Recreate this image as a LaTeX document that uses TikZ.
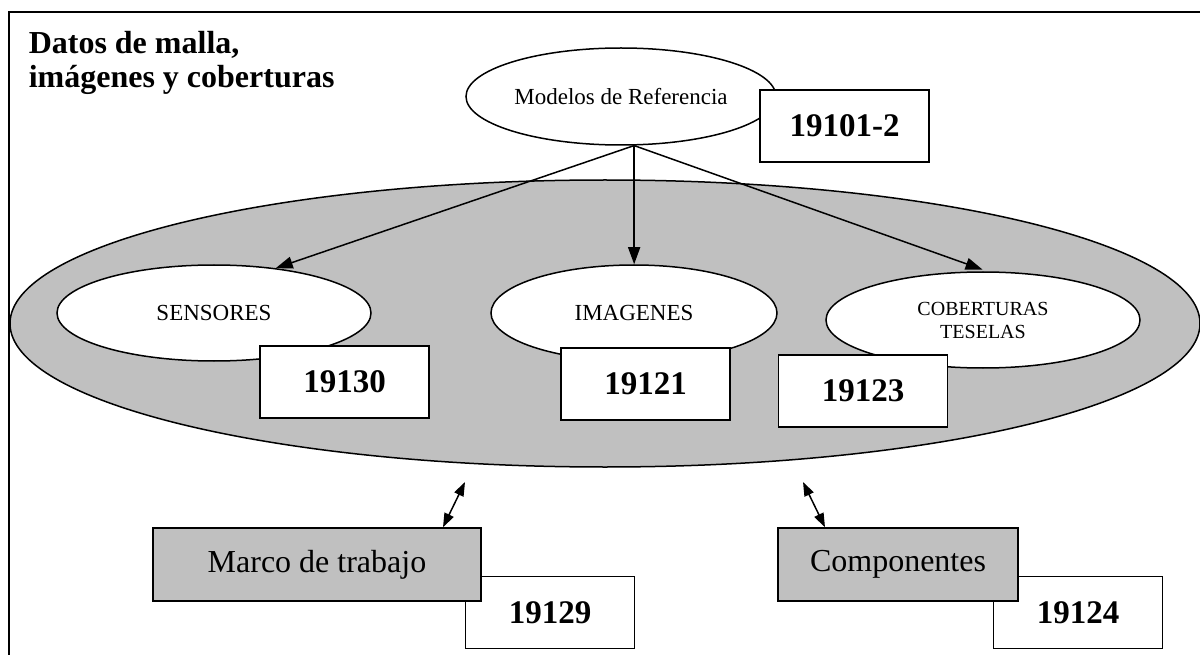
\documentclass[tikz,border=0pt]{standalone}
\usepackage{fontspec}
\setmainfont{Liberation Serif}
\usetikzlibrary{shapes.geometric,arrows.meta,calc}
\definecolor{gris}{RGB}{192,192,192}
\begin{document}
\begin{tikzpicture}[x=1pt,y=-1pt,line width=1.5pt,
  oval/.style={draw,ellipse,fill=white,inner sep=0pt},
  numbox/.style={draw,fill=white,inner sep=0pt,minimum width=169pt,minimum height=72pt,font=\fontsize{33}{33}\selectfont\bfseries},
  graybox/.style={draw,fill=gris,inner sep=0pt,minimum height=73pt,font=\fontsize{32}{32}\selectfont},
  arr/.style={-{Triangle[length=17pt,width=12pt]}},
  dblarr/.style={{Triangle[length=14pt,width=10pt]}-{Triangle[length=14pt,width=10pt]}},
]
\useasboundingbox (0,0) rectangle (1200,655);
% frame
\coordinate (fbl) at (9,656);
\coordinate (ftl) at (9,12);
\coordinate (ftr) at (1201,12);
\draw[line width=2pt] (fbl) -- (ftl) -- (ftr);
% title
\node[anchor=north west,align=left,inner sep=0pt,font=\fontsize{32}{34}\selectfont\bfseries] (title) at (28,31) {Datos de malla,\\imágenes y coberturas};
% big gray ellipse
\node[draw,ellipse,fill=gris,inner sep=0pt,minimum width=1190pt,minimum height=287pt] (big) at (605,323.5) {};
% reference model
\node[oval,minimum width=310pt,minimum height=97pt,font=\fontsize{23}{23}\selectfont] (mod) at (621,96.5) {Modelos de Referencia};
\node[numbox] (b19101) at (844.5,126) {19101-2};
% inner ellipses
\node[oval,minimum width=314pt,minimum height=96pt,font=\fontsize{23}{23}\selectfont] (sen) at (214,313) {SENSORES};
\node[oval,minimum width=286pt,minimum height=96pt,font=\fontsize{23}{23}\selectfont] (img) at (634,313) {IMAGENES};
\node[oval,minimum width=314pt,minimum height=96pt,align=center,font=\fontsize{20}{23}\selectfont] (cob) at (983,320) {COBERTURAS\\TESELAS};
\node[numbox] (b19130) at (344.5,382) {19130};
\node[numbox] (b19121) at (645.5,384) {19121};
\node[numbox] (b19123) at (863,391) {19123};
% arrows
\draw[arr] (mod.-75) -- (sen.36);
\draw[arr] (mod.-75) -- (mod.-75 |- img.north);
\draw[arr,shorten >=5pt] (mod.-75) -- (cob.85);
% bottom boxes
\node[numbox] (b19129) at (550,612.5) {19129};
\node[graybox,minimum width=328pt] (marco) at (317,564.5) {Marco de trabajo};
\node[numbox] (b19124) at (1078,612.5) {19124};
\node[graybox,minimum width=240pt] (comp) at (898,564.5) {Componentes};
\coordinate (dl) at (465,482);
\coordinate (dr) at (803,482);
\draw[dblarr] (dl) -- (marco.north -| 443,0);
\draw[dblarr] (dr) -- (comp.north -| 825,0);
\end{tikzpicture}
\end{document}
